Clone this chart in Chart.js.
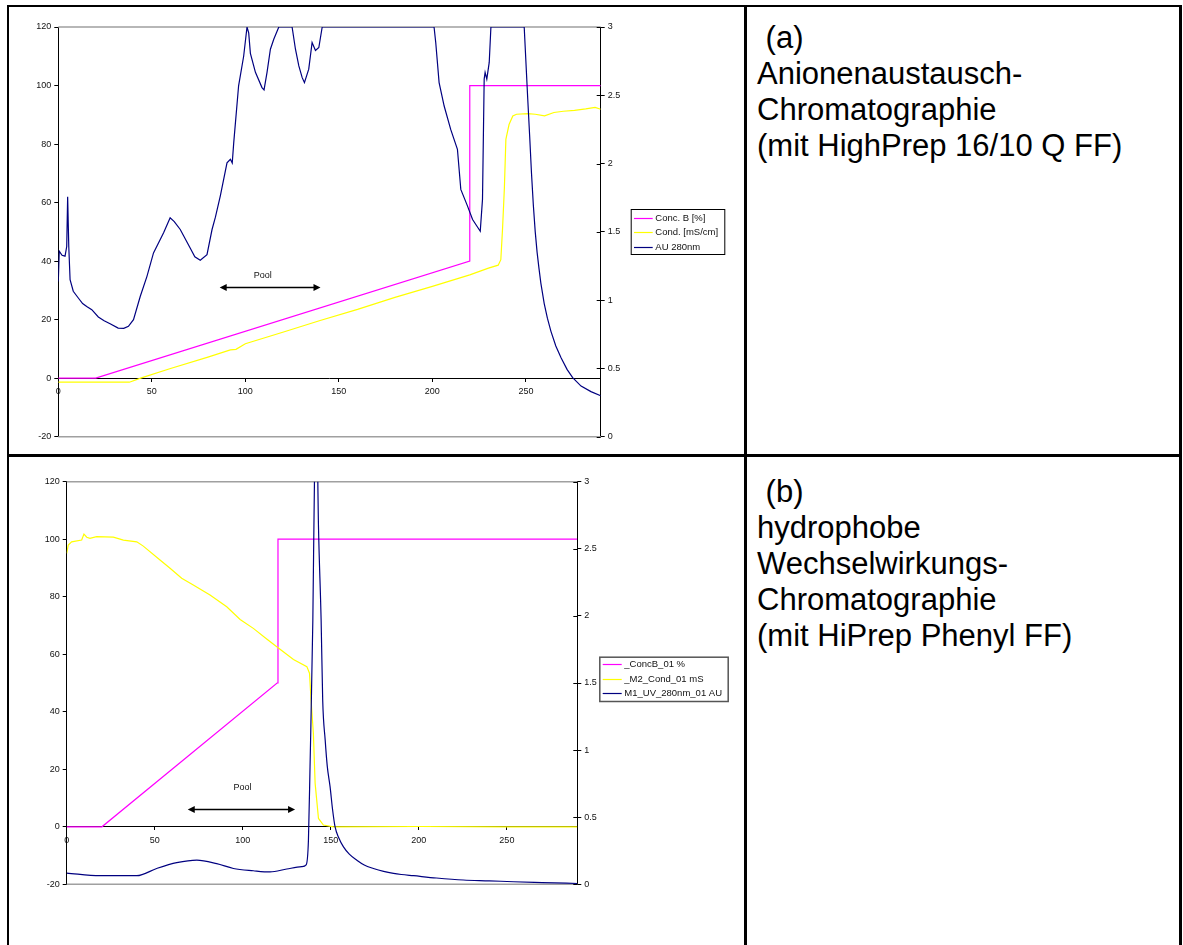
<!DOCTYPE html>
<html>
<head>
<meta charset="utf-8">
<script src="https://cdn.jsdelivr.net/npm/chart.js@4.4.1/dist/chart.umd.min.js"></script>
<style>
html,body{margin:0;padding:0;background:#fff;}
#page{position:relative;width:1183px;height:945px;overflow:hidden;font-family:"Liberation Sans",Arial,sans-serif;}
.rule{position:absolute;background:#000;}
.cap{position:absolute;left:757px;font-size:31px;line-height:36px;color:#000;white-space:pre;}
canvas{position:absolute;}
</style>
</head>
<body>
<div id="page">
  <div class="rule" style="left:7px;top:5px;width:1175px;height:2px"></div>
  <div class="rule" style="left:7px;top:5px;width:2px;height:960px"></div>
  <div class="rule" style="left:1179px;top:5px;width:3px;height:960px"></div>
  <div class="rule" style="left:744px;top:5px;width:3px;height:960px"></div>
  <div class="rule" style="left:7px;top:454px;width:1175px;height:3px"></div>
  <div class="cap" style="top:20px"> (a)
Anionenaustausch-
Chromatographie
(mit HighPrep 16/10 Q FF)</div>
  <div class="cap" style="top:474px"> (b)
hydrophobe
Wechselwirkungs-
Chromatographie
(mit HiPrep Phenyl FF)</div>
  <canvas id="chartA" width="730" height="445" style="left:10px;top:8px"></canvas>
  <canvas id="chartB" width="730" height="440" style="left:10px;top:460px"></canvas>
</div>
<script>
// ---------- Chart (a): anion exchange ----------
const a_concB_x = [0, 20, 220, 220, 290];
const a_concB_y = [0, 0, 40, 100, 100];

const a_cond_x = [0, 38, 44, 60, 80, 92, 95, 100, 120, 140, 160, 180, 200, 220, 230, 235.2, 236.6, 237.5, 238.5, 239.3, 241, 243, 245, 251, 255, 260, 265, 270, 276, 282, 287, 290];
const a_cond_y = [0.399, 0.399, 0.429, 0.499, 0.583, 0.636, 0.640, 0.681, 0.765, 0.851, 0.932, 1.020, 1.101, 1.185, 1.234, 1.256, 1.296, 1.517, 1.821, 2.177, 2.286, 2.349, 2.361, 2.366, 2.361, 2.349, 2.374, 2.383, 2.389, 2.400, 2.411, 2.398];

const a_au_x = [0, 0.5, 2, 3.6, 4.5, 5.0, 5.6, 6.3, 8, 10.7, 13, 15.2, 17.9, 21.4, 24.5, 27.7, 32, 35, 37.5, 40.2, 43.8, 47.4, 50.9, 56.3, 59.8, 62, 65.2, 70.5, 73, 75.9, 79.5, 82.2, 84, 86.6, 90.2, 92, 93, 93.8, 96.4, 99.1, 100.9, 101.8, 102.7, 105.4, 108.9, 110, 111.6, 113.4, 115.2, 117.9, 125, 126.8, 128.6, 130.4, 131.6, 133.9, 135.7, 137.5, 139.3, 141.1, 200.9, 201.8, 203.6, 206.3, 209.8, 213.4, 215.2, 218.8, 221.5, 225.6, 226.8, 227.7, 228.2, 229.1, 230.4, 231.3, 249.1, 251, 252, 253, 254, 255, 256, 257, 258, 259.8, 261.5, 263.4, 266, 268.8, 272, 275, 279.5, 284.8, 290];
const a_au_y = [33, 43.4, 42, 41.7, 45, 62, 45, 33.7, 29.7, 27.4, 25.5, 24.5, 23.4, 20.9, 19.6, 18.6, 17.1, 17.0, 17.7, 20, 27.9, 34.8, 42.8, 49.7, 54.8, 53.5, 50.8, 44.5, 41.5, 40.3, 42.2, 50.8, 55, 62.2, 73.6, 74.8, 73.5, 80.5, 99.9, 110, 120, 118, 111, 104.5, 99.3, 98.5, 104.5, 112.4, 115.8, 120, 120, 112.4, 106.7, 102.7, 101, 105.6, 114.7, 112, 113, 120, 120, 114.7, 101, 93, 85, 78.2, 64.5, 58.8, 54.2, 50.2, 61.1, 102.2, 104.5, 102.2, 107.9, 120, 120, 95.3, 83, 70, 59, 50, 43, 37.5, 32.5, 25.5, 20.5, 16, 11, 7, 3, 0.2, -2.7, -4.6, -6];

const a_labels = ['Conc. B [%]', 'Cond. [mS/cm]', 'AU 280nm'];
const a_pool = {from: 86.3, to: 140.2, y: 31.2, labelX: 109.3, labelY: 35, label: 'Pool'};

// ---------- Chart (b): hydrophobic interaction ----------
const b_concB_x = [0, 20, 119.5, 120, 290];
const b_concB_y = [0, 0, 50, 100, 100];

const b_cond_x = [0, 0.9, 2.8, 8.5, 9.8, 11.4, 13.2, 17, 26.5, 32.2, 39.8, 43.5, 53, 58.7, 65.3, 71.9, 81.4, 90.9, 98.5, 106, 113.6, 119.3, 128.8, 136.4, 137.9, 138.8, 140.1, 141.1, 143, 145.8, 151.5, 200, 250, 290];
const b_cond_y = [95.1, 98, 99.1, 99.7, 101.8, 100.7, 100.3, 100.9, 100.7, 99.7, 99.1, 97.6, 92.8, 89.9, 86.4, 84.1, 80.6, 76.5, 72.1, 69, 65.3, 62.6, 58.2, 55.7, 53.4, 44, 32.5, 15.1, 2.9, 0.6, 0, 0.1, 0, 0];

const b_uv_x = [0, 18.9, 39.8, 51.1, 62.5, 73.9, 85.2, 94.7, 106, 115.5, 125, 133.5, 136, 137.3, 138.2, 139.8, 140.7, 142, 143, 144.5, 145.4, 146.8, 148, 149.6, 151, 152.4, 154.5, 157.2, 160.5, 164.8, 169, 174.2, 180, 185.6, 190, 197, 210, 225.3, 240, 253.8, 270, 290];
const b_uv_y = [0.084, 0.064, 0.064, 0.118, 0.161, 0.180, 0.154, 0.118, 0.101, 0.092, 0.114, 0.131, 0.144, 0.330, 0.876, 1.969, 2.987, 3.45, 2.666, 1.969, 1.371, 1.076, 0.879, 0.726, 0.557, 0.429, 0.347, 0.279, 0.225, 0.180, 0.144, 0.118, 0.096, 0.081, 0.073, 0.064, 0.047, 0.032, 0.026, 0.019, 0.013, 0.006];

const b_labels = ['_ConcB_01 %', '_M2_Cond_01 mS', 'M1_UV_280nm_01 AU'];
const b_pool = {from: 68.75, to: 129.7, y: 6.05, labelX: 99.8, labelY: 13.7, label: 'Pool'};

// axis ranges / ticks
const xRange = [0, 290], xStep = 50;
const leftRange = [-20, 120], leftStep = 20;
const rightRange = [0, 3], rightStep = 0.5;

const FONT = '"Liberation Sans", Arial, sans-serif';
const MAGENTA = '#FF00FF', YELLOW = '#FFFF00', NAVY = '#000080';

function pts(xs, ys) { return xs.map((v, i) => ({x: v, y: ys[i]})); }

const plotBorder = {
  id: 'plotBorder',
  beforeDatasetsDraw(chart) {
    const {ctx, chartArea: a} = chart;
    ctx.save();
    ctx.strokeStyle = '#a0a0a0';
    ctx.lineWidth = 1.5;
    ctx.beginPath();
    ctx.moveTo(a.left, a.top); ctx.lineTo(a.right, a.top);
    ctx.moveTo(a.left, a.bottom); ctx.lineTo(a.right, a.bottom);
    ctx.stroke();
    const yr = chart.scales.y1;
    ctx.strokeStyle = '#000'; ctx.lineWidth = 1;
    ctx.beginPath();
    yr.ticks.forEach(t => {
      const p = Math.round(yr.getPixelForValue(t.value)) + 0.5;
      ctx.moveTo(a.right - 4, p); ctx.lineTo(a.right, p);
    });
    ctx.stroke();
    ctx.restore();
  }
};

const poolArrow = {
  id: 'poolArrow',
  afterDatasetsDraw(chart, args, o) {
    const {ctx, scales: {x, y}} = chart;
    const x1 = x.getPixelForValue(o.from), x2 = x.getPixelForValue(o.to);
    const yy = Math.round(y.getPixelForValue(o.y)) + 0.5;
    ctx.save();
    ctx.strokeStyle = '#000'; ctx.fillStyle = '#000'; ctx.lineWidth = 1.5;
    ctx.beginPath(); ctx.moveTo(x1 + 4, yy); ctx.lineTo(x2 - 4, yy); ctx.stroke();
    ctx.beginPath(); ctx.moveTo(x1, yy); ctx.lineTo(x1 + 7, yy - 3.5); ctx.lineTo(x1 + 7, yy + 3.5); ctx.closePath(); ctx.fill();
    ctx.beginPath(); ctx.moveTo(x2, yy); ctx.lineTo(x2 - 7, yy - 3.5); ctx.lineTo(x2 - 7, yy + 3.5); ctx.closePath(); ctx.fill();
    ctx.font = '9px ' + FONT; ctx.textAlign = 'center'; ctx.textBaseline = 'middle';
    ctx.fillStyle = '#111';
    ctx.fillText(o.label, x.getPixelForValue(o.labelX), y.getPixelForValue(o.labelY));
    ctx.restore();
  }
};

const boxLegend = {
  id: 'boxLegend',
  afterDraw(chart, args, o) {
    const {ctx} = chart;
    ctx.save();
    ctx.fillStyle = '#fff';
    ctx.fillRect(o.left, o.top, o.w, o.h);
    ctx.strokeStyle = o.border; ctx.lineWidth = o.borderWidth;
    ctx.strokeRect(o.left + 0.5, o.top + 0.5, o.w, o.h);
    ctx.font = o.fontSize + 'px ' + FONT;
    ctx.textBaseline = 'middle'; ctx.textAlign = 'left';
    chart.data.datasets.forEach((ds, i) => {
      const yy = Math.round(o.top + o.rows[i]) + 0.5;
      ctx.strokeStyle = ds.borderColor; ctx.lineWidth = 1.2;
      ctx.beginPath(); ctx.moveTo(o.lineX1, yy); ctx.lineTo(o.lineX2, yy); ctx.stroke();
      ctx.fillStyle = '#111';
      ctx.fillText(ds.label, o.textX, yy);
    });
    ctx.restore();
  }
};

function tickFont() { return {family: FONT, size: 9}; }

function makeChart(id, datasets, g, pool, legend) {
  return new Chart(document.getElementById(id), {
    type: 'line',
    data: {datasets},
    options: {
      responsive: false,
      animation: false,
      devicePixelRatio: 1,
      events: [],
      layout: {padding: {top: g.padTop, bottom: g.padBottom, left: 0, right: g.padRight}},
      elements: {point: {radius: 0}, line: {tension: 0, borderWidth: 1.2}},
      plugins: {
        legend: {display: false},
        tooltip: {enabled: false},
        poolArrow: pool,
        boxLegend: legend
      },
      scales: {
        x: {
          type: 'linear', position: {y: 0}, min: xRange[0], max: xRange[1],
          ticks: {stepSize: xStep, includeBounds: false, font: tickFont(), color: '#111', padding: 5, maxRotation: 0, autoSkip: false},
          grid: {drawOnChartArea: false, tickLength: 3, color: '#000'},
          border: {color: '#000', width: 1}
        },
        y: {
          type: 'linear', position: 'left', min: leftRange[0], max: leftRange[1],
          ticks: {stepSize: leftStep, font: tickFont(), color: '#111', padding: 3},
          grid: {drawOnChartArea: false, tickLength: 4, color: '#000'},
          border: {color: '#000', width: 1},
          afterFit: s => { s.width = g.leftW; }
        },
        y1: {
          type: 'linear', position: 'right', min: rightRange[0], max: rightRange[1],
          ticks: {stepSize: rightStep, font: tickFont(), color: '#111', padding: 3, callback: v => String(v)},
          grid: {drawOnChartArea: false, tickLength: 4, color: '#000'},
          border: {color: '#000', width: 1},
          afterFit: s => { s.width = g.rightW; }
        }
      }
    },
    plugins: [plotBorder, poolArrow, boxLegend]
  });
}

makeChart('chartA', [
  {label: a_labels[0], data: pts(a_concB_x, a_concB_y), borderColor: MAGENTA, yAxisID: 'y', order: 2},
  {label: a_labels[1], data: pts(a_cond_x, a_cond_y), borderColor: YELLOW, yAxisID: 'y1', order: 1},
  {label: a_labels[2], data: pts(a_au_x, a_au_y), borderColor: NAVY, yAxisID: 'y', order: 0}
], {padTop: 19, padBottom: 16.3, leftW: 48.3, rightW: 40, padRight: 99.3},
a_pool,
{left: 620.7, top: 201, w: 93.6, h: 45, rows: [9.3, 23.3, 37.7], lineX1: 624, lineX2: 642.7, textX: 645.3, fontSize: 9.5, border: '#000', borderWidth: 1});

makeChart('chartB', [
  {label: b_labels[0], data: pts(b_concB_x, b_concB_y), borderColor: MAGENTA, yAxisID: 'y', order: 2},
  {label: b_labels[1], data: pts(b_cond_x, b_cond_y), borderColor: YELLOW, yAxisID: 'y', order: 1},
  {label: b_labels[2], data: pts(b_uv_x, b_uv_y), borderColor: NAVY, yAxisID: 'y1', order: 0, cubicInterpolationMode: 'monotone'}
], {padTop: 21.7, padBottom: 15.7, leftW: 56.7, rightW: 40, padRight: 122.7},
b_pool,
{left: 589.3, top: 196.7, w: 128.4, h: 44.3, rows: [7.6, 22.3, 36.6], lineX1: 592.7, lineX2: 611.7, textX: 614.3, fontSize: 9.5, border: '#555', borderWidth: 1.5});
</script>
</body>
</html>
